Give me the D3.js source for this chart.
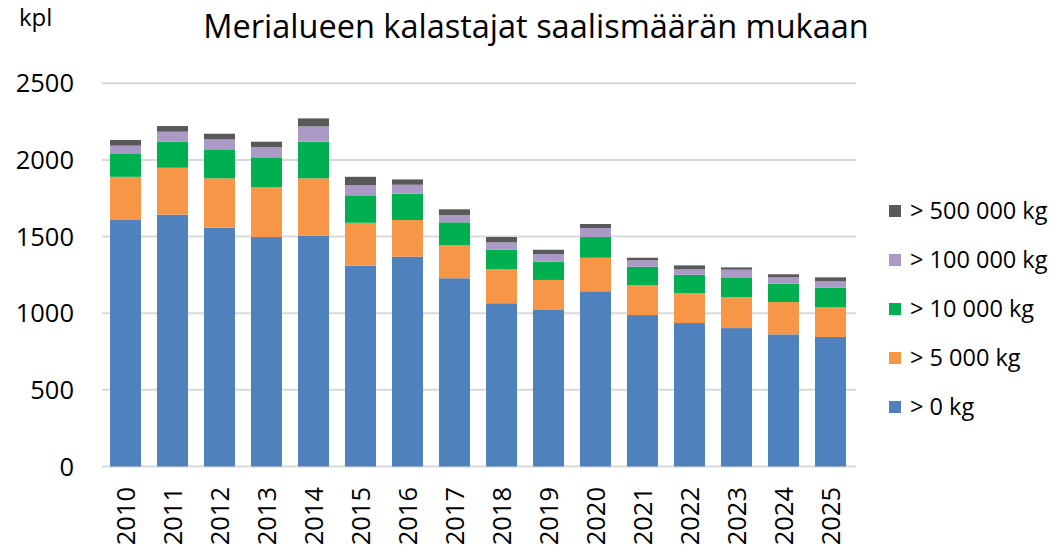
<!DOCTYPE html>
<html><head><meta charset="utf-8">
<script src="https://cdn.jsdelivr.net/npm/d3@7"></script>
<style>body{margin:0;background:#fff}svg{display:block}text{font-family:"Open Sans","Noto Sans",sans-serif;fill:#000}</style>
</head><body><svg id="c" width="1056" height="550"></svg>
<script>
const years = ["2010","2011","2012","2013","2014","2015","2016","2017","2018","2019","2020","2021","2022","2023","2024","2025"];
const seriesNames = ["> 0 kg","> 5 000 kg","> 10 000 kg","> 100 000 kg","> 500 000 kg"];
const colors = ["#4f81bd","#f79646","#00b050","#ab9ac6","#595959"];
const s0 = [1608,1643,1558,1497,1506,1310,1369,1228,1065,1021,1143,988,936,903,862,845];
const s5k = [282,306,322,324,374,280,239,217,221,196,219,194,196,203,211,193];
const s10k = [153,170,189,196,239,179,172,148,128,119,135,121,119,128,119,128];
const s100k = [50,65,65,67,100,67,58,48,48,50,59,42,35,50,42,42];
const s500k = [37,37,37,35,52,54,35,37,35,28,26,17,26,15,20,26];
const yTicks = [0,500,1000,1500,2000,2500];

const svg = d3.select("#c");
const rows = years.map((y,i)=>({year:y, a:s0[i], b:s5k[i], c:s10k[i], d:s100k[i], e:s500k[i]}));
const keys = ["a","b","c","d","e"];
const stack = d3.stack().keys(keys)(rows);

const x = d3.scaleBand().domain(years).range([102,854]).paddingInner(0.34).paddingOuter(0.17);
const y = d3.scaleLinear().domain([0,2500]).range([466.5,83.3]);

// gridlines
svg.append("g").selectAll("line").data(yTicks).join("line")
  .attr("x1",102).attr("x2",856).attr("y1",d=>y(d)).attr("y2",d=>y(d))
  .attr("stroke","#d9d9d9").attr("stroke-width",2);

// y labels
svg.append("g").selectAll("text").data(yTicks).join("text")
  .attr("x",74).attr("y",d=>y(d)).attr("dy","0.36em").attr("text-anchor","end")
  .style("font-size","25.5px").text(d=>d);

// bars
svg.append("g").selectAll("g").data(stack).join("g")
  .attr("fill",(d,i)=>colors[i])
  .selectAll("rect").data(d=>d).join("rect")
  .attr("x",d=>x(d.data.year)).attr("width",x.bandwidth())
  .attr("y",d=>y(d[1])).attr("height",d=>y(d[0])-y(d[1]));

// x labels
svg.append("g").selectAll("text").data(years).join("text")
  .attr("transform",d=>`translate(${x(d)+x.bandwidth()/2},487) rotate(-90)`)
  .attr("dy","0.36em").attr("text-anchor","end")
  .style("font-size","25.5px").text(d=>d);

// title
svg.append("text").attr("x",536).attr("y",38).attr("text-anchor","middle")
  .style("font-size","32.5px").text("Merialueen kalastajat saalismäärän mukaan");
svg.append("text").attr("x",19).attr("y",26).style("font-size","24px").text("kpl");

// legend
const leg = svg.append("g").selectAll("g").data(seriesNames.map((n,i)=>({n,i})).reverse()).join("g")
  .attr("transform",(d,k)=>`translate(889,${211+k*49})`);
leg.append("rect").attr("x",0).attr("y",-6).attr("width",12).attr("height",12).attr("fill",d=>colors[d.i]);
leg.append("text").attr("x",21).attr("dy","0.36em").style("font-size","23.5px").text(d=>d.n);
</script></body></html>
